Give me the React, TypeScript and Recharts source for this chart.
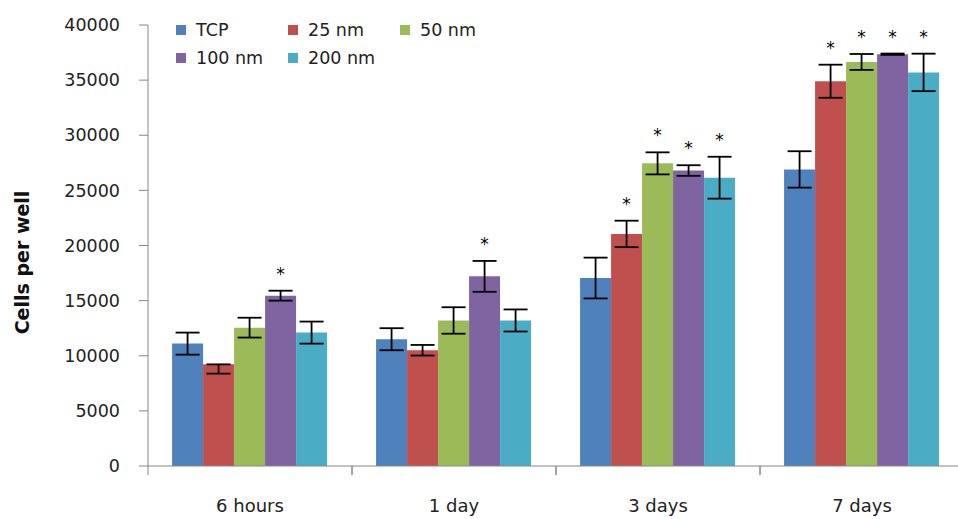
import { BarChart, Bar, XAxis, YAxis, ErrorBar, Legend, LabelList, Label } from 'recharts';

const categories = ['6 hours', '1 day', '3 days', '7 days'];
const seriesNames = ['TCP', '25 nm', '50 nm', '100 nm', '200 nm'];
const seriesColors = ['#4F81BD', '#C0504D', '#9BBB59', '#8064A2', '#4BACC6'];

// mean cells per well
const tcp = [11100, 11500, 17050, 26900];
const nm25 = [9220, 10500, 21050, 34900];
const nm50 = [12550, 13200, 27450, 36650];
const nm100 = [15450, 17200, 26800, 37350];
const nm200 = [12100, 13200, 26150, 35700];

// error bars ([low, high] where only one side is drawn)
const tcpErr: (number | number[])[] = [1000, 1000, 1850, 1650];
const nm25Err: (number | number[])[] = [[840, 0], 480, 1200, 1500];
const nm50Err: (number | number[])[] = [900, 1200, 1000, 720];
const nm100Err: (number | number[])[] = [450, 1400, 480, 60];
const nm200Err: (number | number[])[] = [1000, 1000, 1900, 1700];

// significance stars
const tcpSig = [false, false, false, false];
const nm25Sig = [false, false, true, true];
const nm50Sig = [false, false, true, true];
const nm100Sig = [true, true, true, true];
const nm200Sig = [false, false, true, true];

const yTicks = [0, 5000, 10000, 15000, 20000, 25000, 30000, 35000, 40000];

const values = [tcp, nm25, nm50, nm100, nm200];
const errors = [tcpErr, nm25Err, nm50Err, nm100Err, nm200Err];
const sigs = [tcpSig, nm25Sig, nm50Sig, nm100Sig, nm200Sig];

const data = categories.map((name, i) => {
  const row: any = { name };
  values.forEach((v, s) => {
    row['v' + s] = v[i];
    row['e' + s] = errors[s][i];
  });
  return row;
});

const FONT = '"DejaVu Sans", sans-serif';
const AXIS = '#868686';

const makeStar = (s: number) => (props: any) => {
  const { x, y, width, height, value, index } = props;
  if (!sigs[s][index]) return null;
  const e = errors[s][index];
  const up = Array.isArray(e) ? e[1] : e;
  const ppu = Number(height) / Number(value);
  const top = Number(y) - up * ppu;
  return (
    <text x={Number(x) + Number(width) / 2} y={top - 11} textAnchor="middle" fontSize={17} fontFamily={FONT} fill="#000">
      *
    </text>
  );
};

const XTick = (props: any) => {
  const { x, y, payload } = props;
  const off = payload.offset ?? 102;
  return (
    <g>
      <line x1={x - off} y1={y} x2={x - off} y2={y + 9} stroke={AXIS} />
      <line x1={x + off} y1={y} x2={x + off} y2={y + 9} stroke={AXIS} />
      <text x={x} y={y + 46} textAnchor="middle" fontSize={18} fontFamily={FONT} fill="#222">
        {payload.value}
      </text>
    </g>
  );
};

const YLabel = (props: any) => {
  const { viewBox } = props;
  const cx = viewBox.x + 22;
  const cy = viewBox.y + viewBox.height / 2 + 17;
  return (
    <text
      x={cx}
      y={cy}
      transform={`rotate(-90, ${cx}, ${cy})`}
      textAnchor="middle"
      dominantBaseline="central"
      fontSize={19}
      fontWeight="bold"
      fontFamily={FONT}
      fill="#111"
    >
      Cells per well
    </text>
  );
};

const renderLegend = (props: any) => {
  const items = [...(props.payload || [])].sort(
    (a: any, b: any) => seriesNames.indexOf(a.value) - seriesNames.indexOf(b.value)
  );
  return (
    <div style={{ display: 'flex', flexWrap: 'wrap', width: 360 }}>
      {items.map((item: any) => (
        <div key={item.value} style={{ width: 112, height: 28, display: 'flex', alignItems: 'center' }}>
          <span style={{ width: 10, height: 10, background: item.color, marginRight: 10, flex: 'none' }} />
          <span style={{ fontFamily: FONT, fontSize: 17.5, color: '#222', whiteSpace: 'nowrap' }}>{item.value}</span>
        </div>
      ))}
    </div>
  );
};

export default function App() {
  return (
    <div style={{ position: 'absolute', left: 0, top: 0, width: 958, height: 519, overflow: 'hidden', background: '#fff' }}>
      <BarChart
        width={966}
        height={519}
        data={data}
        margin={{ top: 25, right: 2, left: 0, bottom: 0 }}
        barCategoryGap="11.8%"
        barGap={0}
      >
        <XAxis
          dataKey="name"
          height={53}
          stroke={AXIS}
          tickLine={false}
          tickSize={0}
          tickMargin={0}
          tick={<XTick />}
          interval={0}
        />
        <YAxis
          width={148}
          domain={[0, 40000]}
          ticks={yTicks}
          interval={0}
          stroke={AXIS}
          tickSize={9}
          tickMargin={19}
          tick={{ fontSize: 17.5, fontFamily: FONT, fill: '#222' }}
        >
          <Label content={YLabel} />
        </YAxis>
        <Legend
          layout="horizontal"
          verticalAlign="middle"
          align="center"
          width={360}
          wrapperStyle={{ top: 16, left: 176 }}
          content={renderLegend}
        />
        {seriesNames.map((name, s) => (
          <Bar key={name} dataKey={'v' + s} name={name} fill={seriesColors[s]} isAnimationActive={false}>
            <ErrorBar dataKey={'e' + s} width={12} strokeWidth={1.8} stroke="#000" isAnimationActive={false} />
            <LabelList dataKey={'v' + s} content={makeStar(s)} />
          </Bar>
        ))}
      </BarChart>
    </div>
  );
}
